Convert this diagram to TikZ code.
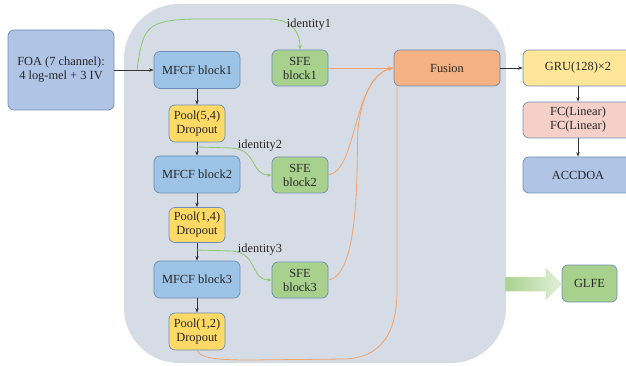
\documentclass[tikz,border=0pt]{standalone}
\usepackage{fontspec}
\setmainfont{Liberation Serif}
\usetikzlibrary{arrows.meta}
\definecolor{bgc}{HTML}{D6DCE5}
\definecolor{bordc}{HTML}{6F8DB4}
\definecolor{mfcf}{HTML}{9DC3E6}
\definecolor{foa}{HTML}{B0C5E6}
\definecolor{pool}{HTML}{FFD966}
\definecolor{sfe}{HTML}{A9D18E}
\definecolor{fus}{HTML}{F4B183}
\definecolor{gru}{HTML}{FFE699}
\definecolor{fc}{HTML}{F4D0C8}
\definecolor{txt}{HTML}{262626}
\definecolor{gline}{HTML}{8CC56A}
\definecolor{oline}{HTML}{F2A36C}
\definecolor{lgreen}{HTML}{E2F0D9}
\begin{document}
\begin{tikzpicture}[x=1pt,y=-1pt,
  font=\fontsize{12.4}{14}\selectfont,
  box/.style={draw=bordc, line width=0.7pt, rounded corners=6pt, align=center,
    inner sep=0pt, text=txt},
  blk/.style={box, fill=mfcf, minimum width=86pt, minimum height=37pt},
  poolbox/.style={box, fill=pool, minimum width=56pt, minimum height=37pt},
  sfebox/.style={box, fill=sfe, minimum width=56pt, minimum height=36pt},
  rbox/.style={box, minimum width=110pt, minimum height=36pt},
  blarr/.style={line width=0.7pt, draw=black!80, -{Stealth[length=4.5pt,width=3.5pt]}},
  garr/.style={line width=0.8pt, draw=gline, -{Stealth[length=4.5pt,width=3.5pt]}},
  oarr/.style={line width=0.8pt, draw=oline, -{Stealth[length=4.5pt,width=3.5pt]}},
  lab/.style={text=txt, inner sep=0pt}]
\useasboundingbox (0,0) rectangle (626,366);
% background region
\fill[bgc, rounded corners=55pt] (124,4) rectangle (506,363);
% nodes
\node[box, fill=foa, minimum width=106pt, minimum height=80pt] (foa) at (61,70) {FOA (7 channel):\\4 log-mel + 3 IV};
\node[blk] (m1) at (197,70) {MFCF block1};
\node[poolbox] (p1) at (197,123.5) {Pool(5,4)\\Dropout};
\node[blk] (m2) at (197,174.5) {MFCF block2};
\node[poolbox, minimum height=35pt] (p2) at (197,225) {Pool(1,4)\\Dropout};
\node[blk] (m3) at (197,279.5) {MFCF block3};
\node[poolbox] (p3) at (197,331.5) {Pool(1,2)\\Dropout};
\node[sfebox] (s1) at (300,68) {SFE\\block1};
\node[sfebox] (s2) at (300,175) {SFE\\block2};
\node[sfebox] (s3) at (300,280) {SFE\\block3};
% pool3 -> fusion line runs behind the Fusion box
\coordinate (fin2) at (397,70);
\draw[oarr] (p3.south) .. controls (200,358) and (215,360) .. (250,360) -- (345,359)
  .. controls (390,357) and (397,320) .. (397,290) -- (fin2);
\node[box, fill=fus, minimum width=106pt, minimum height=36pt] (fu) at (447,68) {Fusion};
\node[rbox, fill=gru] (gru) at (578,68) {GRU(128)×2};
\node[rbox, fill=fc] (fc) at (578,120) {FC(Linear)\\FC(Linear)};
\node[rbox, fill=foa] (acc) at (578,175) {ACCDOA};
\node[box, fill=sfe, minimum width=55pt, minimum height=37pt] (glfe) at (589.5,283.5) {GLFE};
% block arrow
\shade[left color=sfe, right color=lgreen, draw=sfe!60!white, line width=0.5pt]
  (505,277) -- (546,277) -- (546,269) -- (561,284) -- (546,299) -- (546,291) -- (505,291) -- cycle;
% black arrows
\draw[blarr] (foa.east |- m1.west) -- (m1.west);
\draw[blarr] (m1.south) -- (p1.north);
\draw[blarr] (p1.south) -- (m2.north);
\draw[blarr] (m2.south) -- (p2.north);
\draw[blarr] (p2.south) -- (m3.north);
\draw[blarr] (m3.south) -- (p3.north);
\draw[blarr] (fu.east) -- (gru.west);
\draw[blarr] (gru.south -| 578,0) -- (fc.north -| 578,0);
\draw[blarr] (fc.south -| 578,0) -- (acc.north -| 578,0);
% identity connections
\coordinate (i1) at (137,70);
\coordinate (i2) at (197,147);
\coordinate (i3) at (197,250);
\draw[garr] (i1) .. controls (143,28) and (145,20) .. (195,19) -- (268,19)
  .. controls (290,19) and (300,30) .. (s1.north);
\draw[garr] (i2) -- (232,148) .. controls (258,150) and (250,175) .. (s2.west);
\draw[garr] (i3) -- (232,251) .. controls (258,253) and (250,280) .. (s3.west);
\node[lab] (l1) at (309,25) {identity1};
\node[lab] (l2) at (260,146) {identity2};
\node[lab] (l3) at (260,250) {identity3};
% orange connections to fusion
\coordinate (fin) at (393,68);
\draw[oarr] (s1.east) -- (fin);
\draw[oarr] (s2.east) .. controls (358,170) and (352,78) .. (fin);
\draw[oarr] (s3.east) .. controls (362,275) and (356,150) .. (358,130) .. controls (361,95) and (375,72) .. (fin);
\end{tikzpicture}
\end{document}
